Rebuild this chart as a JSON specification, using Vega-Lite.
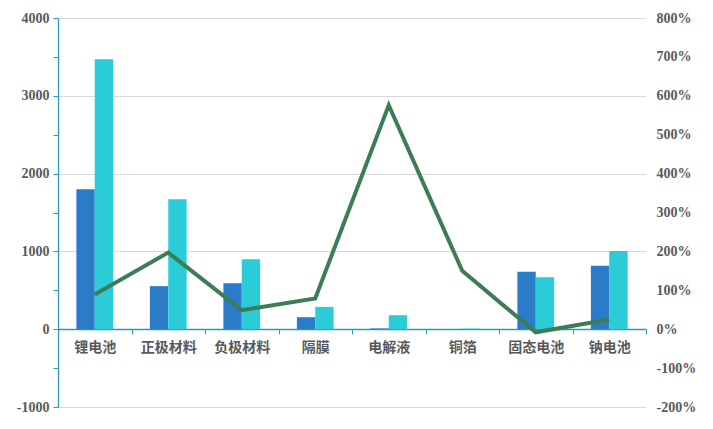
{
  "$schema": "https://vega.github.io/schema/vega-lite/v6.json",
  "autosize": {"type": "none"},
  "width": 588,
  "height": 389,
  "padding": {"left": 58, "top": 18, "right": 67, "bottom": 22},
  "background": "white",
  "config": {"view": {"stroke": null}},
  "datasets": {
    "bars": [
      {"cat": "锂电池", "series": "A", "value": 1800},
      {"cat": "锂电池", "series": "B", "value": 3470},
      {"cat": "正极材料", "series": "A", "value": 553},
      {"cat": "正极材料", "series": "B", "value": 1670},
      {"cat": "负极材料", "series": "A", "value": 591},
      {"cat": "负极材料", "series": "B", "value": 900},
      {"cat": "隔膜", "series": "A", "value": 154},
      {"cat": "隔膜", "series": "B", "value": 287},
      {"cat": "电解液", "series": "A", "value": 10},
      {"cat": "电解液", "series": "B", "value": 180},
      {"cat": "铜箔", "series": "A", "value": 1},
      {"cat": "铜箔", "series": "B", "value": 7},
      {"cat": "固态电池", "series": "A", "value": 737},
      {"cat": "固态电池", "series": "B", "value": 668},
      {"cat": "钠电池", "series": "A", "value": 814},
      {"cat": "钠电池", "series": "B", "value": 1006}
    ],
    "line": [
      {"cat": "锂电池", "growth": 0.89},
      {"cat": "正极材料", "growth": 1.97},
      {"cat": "负极材料", "growth": 0.49},
      {"cat": "隔膜", "growth": 0.79},
      {"cat": "电解液", "growth": 5.76},
      {"cat": "铜箔", "growth": 1.5},
      {"cat": "固态电池", "growth": -0.08},
      {"cat": "钠电池", "growth": 0.25}
    ]
  },
  "layer": [
    {
      "data": {"name": "bars"},
      "mark": {"type": "bar"},
      "encoding": {
        "x": {
          "field": "cat", "type": "nominal", "sort": null,
          "scale": {"paddingInner": 0, "paddingOuter": 0},
          "axis": {
            "title": null, "orient": "bottom", "offset": -78,
            "labelAngle": 0, "labelFont": "Noto Sans CJK SC", "labelFontWeight": "bold",
            "labelFontSize": 14, "labelColor": "#595959", "labelPadding": 6,
            "domainColor": "#2B9BB8", "domainWidth": 1.3, "tickColor": "#2B9BB8",
            "tickBand": "extent", "tickSize": 5, "grid": false
          }
        },
        "xOffset": {
          "field": "series", "type": "nominal",
          "scale": {"paddingInner": 0, "paddingOuter": 1.04}
        },
        "y": {
          "field": "value", "type": "quantitative",
          "scale": {"domain": [-1000, 4000], "nice": false, "zero": false},
          "axis": {
            "title": null,
            "values": [-1000, -500, 0, 500, 1000, 1500, 2000, 2500, 3000, 3500, 4000],
            "labelExpr": "datum.value % 1000 === 0 ? '' + datum.value : ''",
            "labelFont": "Liberation Serif", "labelFontWeight": "bold",
            "labelFontSize": 14, "labelColor": "#595959", "labelPadding": 4,
            "domainColor": "#2B9BB8", "domainWidth": 1.3, "tickColor": "#2B9BB8", "tickSize": 5,
            "grid": true, "gridColor": "#D9D9D9",
            "gridOpacity": {"condition": {"test": "datum.value % 1000 !== 0", "value": 0}, "value": 1}
          }
        },
        "color": {
          "field": "series", "type": "nominal",
          "scale": {"domain": ["A", "B"], "range": ["#2A7BC8", "#2BCBD8"]},
          "legend": null
        }
      }
    },
    {
      "data": {"name": "line"},
      "mark": {"type": "line", "color": "#3D7D55", "strokeWidth": 4},
      "encoding": {
        "x": {"field": "cat", "type": "nominal", "sort": null},
        "y": {
          "field": "growth", "type": "quantitative",
          "scale": {"domain": [-2, 8], "nice": false, "zero": false},
          "axis": {
            "title": null, "orient": "right",
            "values": [-2, -1, 0, 1, 2, 3, 4, 5, 6, 7, 8],
            "labelExpr": "round(datum.value * 100) + '%'",
            "labelFont": "Liberation Serif", "labelFontWeight": "bold",
            "labelFontSize": 14, "labelColor": "#595959", "labelPadding": 10,
            "domain": false, "ticks": false, "grid": false
          }
        }
      }
    }
  ],
  "resolve": {"scale": {"y": "independent"}}
}
